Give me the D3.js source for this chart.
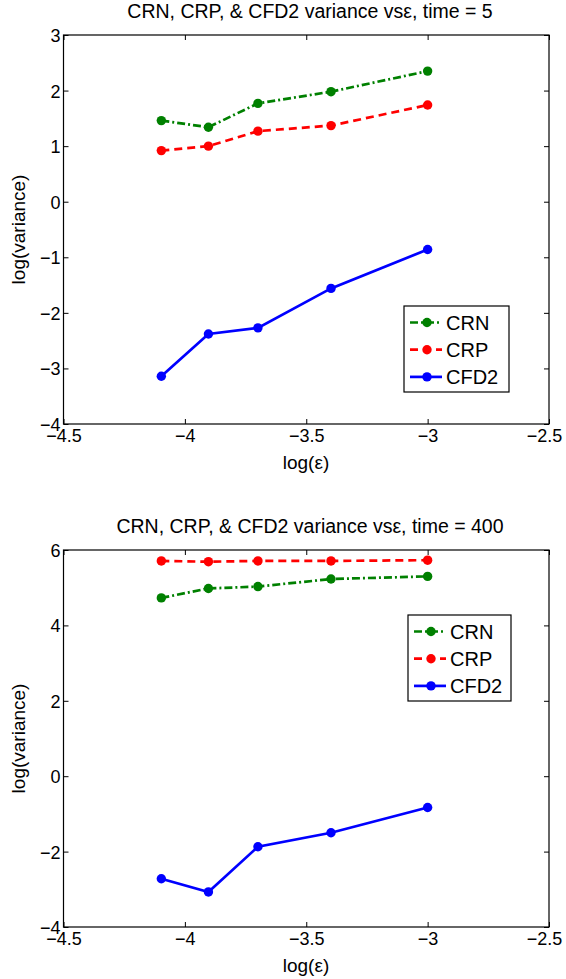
<!DOCTYPE html>
<html>
<head>
<meta charset="utf-8">
<script src="https://cdn.jsdelivr.net/npm/d3@7"></script>
<style>
  body { margin: 0; background: #fff; }
  svg { display: block; font-family: "Liberation Sans", Arial, sans-serif; }
  .axis path { display: none; }
  .axis line { stroke: #000; stroke-width: 1; }
  .axis text { fill: #000; font-size: 18px; }
</style>
</head>
<body>
<div id="chart"></div>
<script>
// x values: log(epsilon)
const logEps = [-4.097, -3.903, -3.699, -3.398, -3.0];

// time = 5
const crnT5 = [1.46, 1.34, 1.77, 1.98, 2.35];
const crpT5 = [0.92, 1.0, 1.27, 1.37, 1.74];
const cfd2T5 = [-3.14, -2.38, -2.27, -1.56, -0.86];

// time = 400
const crnT400 = [4.73, 4.98, 5.03, 5.23, 5.30];
const crpT400 = [5.71, 5.69, 5.71, 5.71, 5.73];
const cfd2T400 = [-2.72, -3.07, -1.87, -1.50, -0.83];

const xTicks = [-4.5, -4, -3.5, -3, -2.5];
const yTicksT5 = [-4, -3, -2, -1, 0, 1, 2, 3];
const yTicksT400 = [-4, -2, 0, 2, 4, 6];

const seriesNames = ["CRN", "CRP", "CFD2"];
const seriesColors = ["#008000", "#ff0000", "#0000ff"];
const seriesDash = ["8,3,2,3", "8,5", null];

const W = 566, H = 979;
const svg = d3.select("#chart").append("svg").attr("width", W).attr("height", H);

function drawPanel(opt) {
  const x = d3.scaleLinear().domain([-4.5, -2.5]).range([63.5, 549]);
  const y = d3.scaleLinear().domain(opt.yDomain).range([opt.bottom, opt.top]);
  const g = svg.append("g");

  // inward ticks on all four sides
  const bottomAxis = g.append("g").attr("class", "axis").attr("transform", `translate(0,${opt.bottom})`)
    .call(d3.axisBottom(x).tickValues(xTicks).tickSizeInner(-5).tickSizeOuter(0).tickPadding(3)
      .tickFormat(d3.format("")));
  bottomAxis.selectAll("text").attr("dy", null).attr("y", 18)
    .attr("dx", d => d === -2.5 ? -5 : 0);

  g.append("g").attr("class", "axis").attr("transform", `translate(0,${opt.top})`)
    .call(d3.axisTop(x).tickValues(xTicks).tickSizeInner(-5).tickSizeOuter(0).tickFormat(""));

  const leftAxis = g.append("g").attr("class", "axis").attr("transform", `translate(${x.range()[0]},0)`)
    .call(d3.axisLeft(y).tickValues(opt.yTicks).tickSizeInner(-5).tickSizeOuter(0).tickPadding(3)
      .tickFormat(d3.format("")));
  leftAxis.selectAll("text").attr("dy", "0.36em");

  g.append("g").attr("class", "axis").attr("transform", `translate(${x.range()[1]},0)`)
    .call(d3.axisRight(y).tickValues(opt.yTicks).tickSizeInner(-5).tickSizeOuter(0).tickFormat(""));

  g.append("rect")
    .attr("x", x.range()[0]).attr("y", opt.top)
    .attr("width", x.range()[1] - x.range()[0]).attr("height", opt.bottom - opt.top)
    .attr("fill", "none").attr("stroke", "#000").attr("stroke-width", 1.2);

  const line = d3.line().x((d, i) => x(logEps[i])).y(d => y(d));
  opt.series.forEach((vals, k) => {
    g.append("path").datum(vals)
      .attr("d", line)
      .attr("fill", "none")
      .attr("stroke", seriesColors[k])
      .attr("stroke-width", 2.7)
      .attr("stroke-dasharray", seriesDash[k]);
    g.selectAll(null).data(vals).enter().append("circle")
      .attr("cx", (d, i) => x(logEps[i])).attr("cy", d => y(d))
      .attr("r", 4.7).attr("fill", seriesColors[k]);
  });

  // title and axis labels
  svg.append("text").attr("x", 310).attr("y", opt.top - 17)
    .attr("text-anchor", "middle").attr("font-size", 19.5).text(opt.title);
  svg.append("text").attr("x", 306).attr("y", opt.bottom + 45)
    .attr("text-anchor", "middle").attr("font-size", 19).text("log(ε)");
  svg.append("text")
    .attr("transform", `translate(25,${(opt.top + opt.bottom) / 2}) rotate(-90)`)
    .attr("text-anchor", "middle").attr("font-size", 19).text("log(variance)");

  // legend
  const L = opt.legend;
  const lg = svg.append("g").attr("transform", `translate(${L.x},${L.y})`);
  lg.append("rect").attr("width", L.w).attr("height", L.h)
    .attr("fill", "#fff").attr("stroke", "#000").attr("stroke-width", 1.2);
  seriesNames.forEach((name, k) => {
    const cy = 16.5 + k * 27.2;
    lg.append("line").attr("x1", 6).attr("x2", 38).attr("y1", cy).attr("y2", cy)
      .attr("stroke", seriesColors[k]).attr("stroke-width", 2.7)
      .attr("stroke-dasharray", seriesDash[k]);
    lg.append("circle").attr("cx", 23).attr("cy", cy).attr("r", 4.7).attr("fill", seriesColors[k]);
    lg.append("text").attr("x", 42).attr("y", cy).attr("dy", "0.36em")
      .attr("font-size", 20).text(name);
  });
}

drawPanel({
  top: 35, bottom: 424, yDomain: [-4, 3], yTicks: yTicksT5,
  series: [crnT5, crpT5, cfd2T5],
  title: "CRN, CRP, & CFD2 variance vsε, time = 5",
  legend: { x: 404, y: 306, w: 105, h: 86 }
});

drawPanel({
  top: 550, bottom: 927, yDomain: [-4, 6], yTicks: yTicksT400,
  series: [crnT400, crpT400, cfd2T400],
  title: "CRN, CRP, & CFD2 variance vsε, time = 400",
  legend: { x: 408, y: 615, w: 103, h: 86 }
});
</script>
</body>
</html>
